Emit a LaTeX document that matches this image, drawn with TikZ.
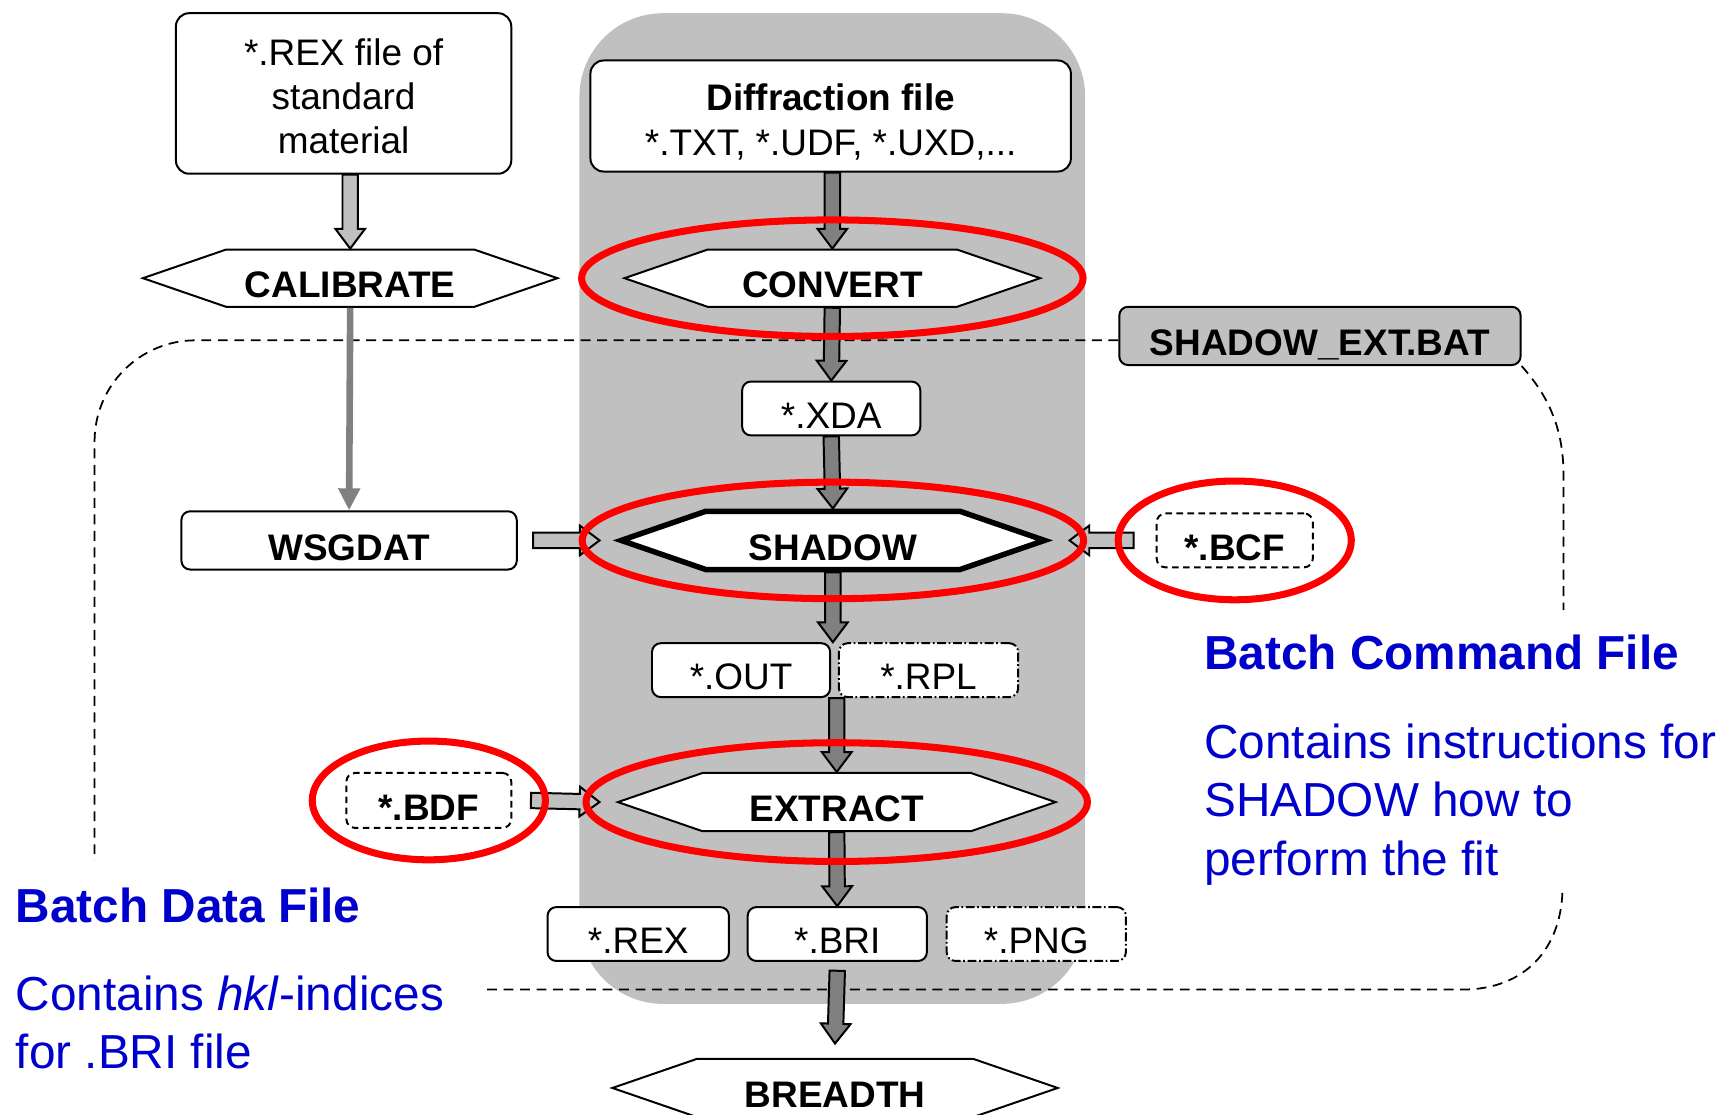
\documentclass[tikz,border=0pt]{standalone}
\usepackage{fontspec}
\setmainfont{Liberation Sans}
\usetikzlibrary{shapes.symbols,calc,arrows.meta}
\definecolor{colbg}{HTML}{C0C0C0}
\definecolor{arrdark}{HTML}{808080}
\definecolor{noteblue}{HTML}{0000CC}
\newcommand{\flowfont}{\fontsize{16.8}{20.2}\selectfont}
\newcommand{\bluefont}{\fontsize{21.7}{26.6}\selectfont}

\begin{document}
\begin{tikzpicture}[x=0.5pt,y=-0.5pt]
  \tikzstyle{file}     = [draw,fill=white,rounded corners=4pt,line width=0.9pt,inner sep=0pt,
                          font=\flowfont,text height=18pt,text depth=0pt,minimum height=24.5pt]
  \tikzstyle{fileB}    = [file,font=\flowfont\bfseries]
  \tikzstyle{fileDash} = [fileB,dash pattern=on 3pt off 2pt]
  \tikzstyle{fileDot}  = [file,dash pattern=on 4pt off 1.2pt on 0.8pt off 1.2pt]
  \tikzstyle{prog}     = [signal,signal to=west and east,signal pointer angle=38,draw,fill=white,
                          line width=0.9pt,inner sep=0pt,minimum height=26pt,
                          font=\flowfont\bfseries,text height=18pt,text depth=0pt]
  \tikzstyle{blockarr} = [to path={
        ($(\tikztostart)!3.5pt!90:(\tikztotarget)$)
     -- ($(\tikztotarget)!9pt!(\tikztostart)!3.5pt!-90:(\tikztostart)$)
     -- ($(\tikztotarget)!9pt!(\tikztostart)!6.75pt!-90:(\tikztostart)$)
     -- (\tikztotarget)
     -- ($(\tikztotarget)!9pt!(\tikztostart)!6.75pt!90:(\tikztostart)$)
     -- ($(\tikztotarget)!9pt!(\tikztostart)!3.5pt!90:(\tikztostart)$)
     -- ($(\tikztostart)!3.5pt!-90:(\tikztotarget)$)
     -- cycle}]
  \tikzstyle{flowD}    = [draw=black,line width=0.9pt,fill=arrdark,blockarr]
  \tikzstyle{flowL}    = [draw=black,line width=0.9pt,fill=colbg,blockarr]
  \tikzstyle{ring}     = [draw=red,line width=3.2pt]
  \tikzstyle{batch}    = [line width=0.8pt,dash pattern=on 4.5pt off 3pt]
  \tikzstyle{note}     = [text=noteblue,font=\bluefont,anchor=base west,align=left,inner sep=0pt]
  \useasboundingbox (0,0) rectangle (1568,1014);
  % SHADOW column
  \fill[colbg,rounded corners=38pt] (527,12) rectangle (987,913);
  % files and programs
  \path (312.5,  85.0) node[file,rounded corners=6pt,minimum width=152.5pt,minimum height=73pt,
                            align=center,text height=,text depth=](rexstd)
        {\rule{0pt}{14.8pt}*.REX file of\\standard\\material};
  \path (755.5, 105.5) node[file,rounded corners=6pt,minimum width=218.5pt,minimum height=50.5pt,
                            align=center,text height=,text depth=](diffr)
        {\rule{0pt}{17.6pt}\textbf{Diffraction file}\\*.TXT, *.UDF, *.UXD,...};
  \path (318.5, 253.0) node[prog,minimum width=188.5pt](calib) {CALIBRATE};
  \path (757.0, 253.0) node[prog,minimum width=189pt](conv) {CONVERT};
  \path (1200.5,305.5) node[fileB,fill=colbg,minimum width=182.5pt,minimum height=26.5pt](sbat) {SHADOW\_EXT.BAT};
  \path (756.0, 371.5) node[file,minimum width=81pt](xda) {*.XDA};
  \path (317.5, 491.5) node[fileB,minimum width=152.5pt,minimum height=26.5pt](wsg) {WSGDAT};
  \path (757.5, 491.5) node[prog,line width=2.5pt,minimum width=192.5pt,minimum height=26.5pt](shad) {SHADOW};
  \path (1123.0,491.5) node[fileDash,minimum width=71pt](bcf) {*.BCF};
  \path (674.0, 609.5) node[file,minimum width=81pt](outf) {*.OUT};
  \path (844.5, 609.5) node[fileDot,minimum width=81.5pt](rpl) {*.RPL};
  \path (390.0, 728.0) node[fileDash,minimum width=75pt,minimum height=25pt](bdf) {*.BDF};
  \path (761.0, 729.5) node[prog,minimum width=199pt,minimum height=26.5pt](extr) {EXTRACT};
  \path (580.5, 849.5) node[file,minimum width=82.5pt](rexout) {*.REX};
  \path (761.5, 849.5) node[file,minimum width=81.5pt](bri) {*.BRI};
  \path (942.5, 849.5) node[fileDot,minimum width=81.5pt](png) {*.PNG};
  \path (759.5, 989.5) node[prog,minimum width=202.5pt,minimum height=26.5pt](breadth) {BREADTH};
  % batch files
  \draw[batch,rounded corners=46pt] ([yshift=-2pt]sbat.west) -| (86,783);
  \draw[batch] (sbat.south east) .. controls (1410,362) and (1422,392) .. (1422,432) -- (1422,555);
  \draw[batch] (1421,812) .. controls (1419,862) and (1388,900) .. (1330,900) -- (440,900);
  % flow
  \draw[flowL] (rexstd.south -| calib.north) to (calib.north);
  \draw[line width=3pt,arrdark,-{Triangle[width=9.5pt,length=10pt]}] (calib.south) -- (wsg.north);
  \draw[flowD] (diffr.south -| conv.north) to (conv.north);
  \draw[flowD] (conv.south) to (xda.north);
  \draw[flowD] (xda.south) to (shad.north);
  \draw[flowL] ([xshift=7pt]wsg.east) to ([xshift=-6pt]shad.west);
  \draw[flowL] ([xshift=-10pt]bcf.west) to ([xshift=7.5pt]shad.east);
  \draw[flowD] (shad.south) to (shad.south |- outf.north);
  \draw[flowD] (extr.north |- outf.south) to (extr.north);
  \draw[flowL] ([xshift=8.5pt]bdf.east) to ([xshift=-7pt]extr.west);
  \draw[flowD] (extr.south) to (bri.north);
  \draw[flowD] ([yshift=-4pt]bri.south) to ([yshift=6.5pt]breadth.north);
  % highlights
  \draw[ring] (conv.center) ellipse [x radius=114pt, y radius=26.5pt];
  \draw[ring] (shad.center) ellipse [x radius=114pt, y radius=26.5pt];
  \draw[ring] (extr.center) ellipse [x radius=114pt, y radius=27pt];
  \draw[ring] (bcf.center)  ellipse [x radius=53pt,  y radius=27pt];
  \draw[ring] (bdf.center)  ellipse [x radius=53pt,  y radius=27pt];
  % notes (multi-line nodes sit on their last line)
  \path (1095,609) node[note,font=\bluefont\bfseries](bcfhead) {Batch Command File};
  \path (1095,796) node[note](bcftext) {Contains instructions for\\SHADOW how to\\perform the fit};
  \path (14,839)   node[note,font=\bluefont\bfseries](bdfhead) {Batch Data File};
  \path (14,972)   node[note](bdftext) {Contains \textit{hkl}-indices\\for .BRI file};
\end{tikzpicture}
\end{document}
